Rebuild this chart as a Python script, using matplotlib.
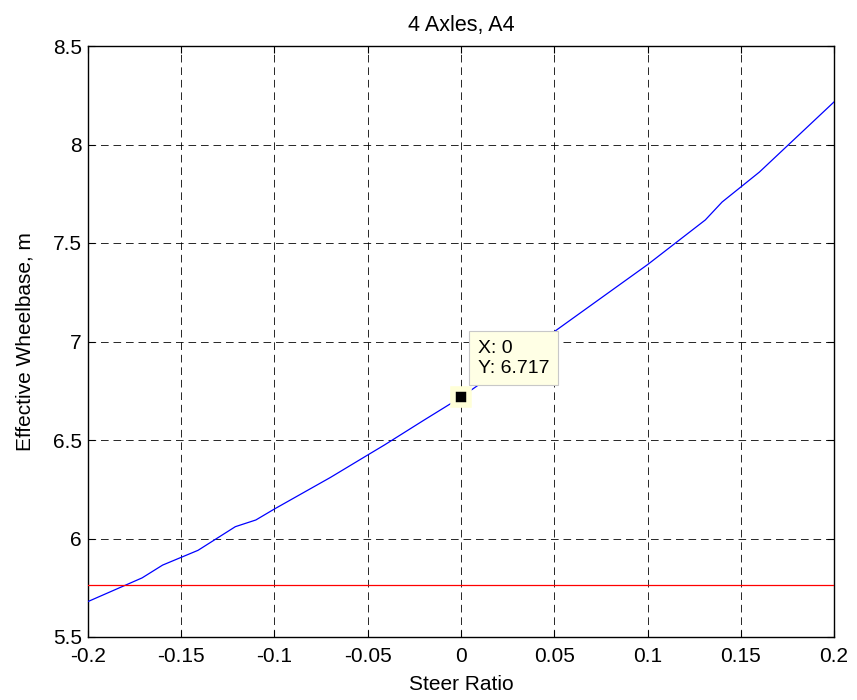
import matplotlib
matplotlib.use("Agg")
import matplotlib.pyplot as plt

steer_ratio = [-0.2, -0.171, -0.16, -0.141, -0.121, -0.11, -0.1, -0.07, -0.05, -0.041,
               -0.02, 0.0, 0.05, 0.1, 0.131, 0.14, 0.15, 0.16, 0.2]
eff_wheelbase = [5.68, 5.80, 5.865, 5.94, 6.06, 6.094, 6.15, 6.31, 6.424, 6.475,
                 6.60, 6.717, 7.05, 7.39, 7.617, 7.708, 7.784, 7.86, 8.216]
reference_level = 5.765
tip_x, tip_y = 0.0, 6.717
x_ticks = [-0.2, -0.15, -0.1, -0.05, 0, 0.05, 0.1, 0.15, 0.2]
x_tick_labels = ["-0.2", "-0.15", "-0.1", "-0.05", "0", "0.05", "0.1", "0.15", "0.2"]
y_ticks = [5.5, 6, 6.5, 7, 7.5, 8, 8.5]
y_tick_labels = ["5.5", "6", "6.5", "7", "7.5", "8", "8.5"]

plt.rcParams['font.family'] = ['Liberation Sans', 'DejaVu Sans']
plt.rcParams['lines.scale_dashes'] = False

fig = plt.figure(figsize=(8.57, 7.0), dpi=100)
ax = fig.add_axes([88/857, 63/700, (834-88)/857, (637-46)/700])

ax.plot(steer_ratio, eff_wheelbase, color='#0000FF', lw=0.9, zorder=3)
ax.axhline(reference_level, color='#FF0000', lw=0.9, zorder=3)

ax.plot([tip_x], [tip_y], marker='s', ms=12, mfc='black', mec='#FFFFD8', mew=4,
        zorder=5, clip_on=False)
ax.text(0.0091, 6.915, f"X: {tip_x:g}\nY: {tip_y}", fontsize=14, va='center', ha='left',
        linespacing=1.2, zorder=6,
        bbox=dict(boxstyle='square,pad=0.45', fc='#FFFFE5', ec='#C8C8C8', lw=0.8))

ax.set_xlim(-0.2, 0.2)
ax.set_ylim(5.5, 8.5)
ax.set_xticks(x_ticks)
ax.set_xticklabels(x_tick_labels)
ax.set_yticks(y_ticks)
ax.set_yticklabels(y_tick_labels)
ax.tick_params(direction='in', length=5, width=0.8, top=True, right=True,
               labelsize=15, colors='black')
ax.tick_params(axis='x', pad=7.5)
ax.tick_params(axis='y', pad=4.5)
ax.grid(True, color='black', linestyle=(0, (5.5, 3.5)), lw=0.7, alpha=0.85)
for s in ax.spines.values():
    s.set_linewidth(1.0)
    s.set_color('black')

ax.set_title("4 Axles, A4", fontsize=15.5, pad=10.5)
ax.set_xlabel("Steer Ratio", fontsize=15, labelpad=6)
ax.set_ylabel("Effective Wheelbase, m", fontsize=15, labelpad=13)

fig.savefig("out.png", dpi=100)
